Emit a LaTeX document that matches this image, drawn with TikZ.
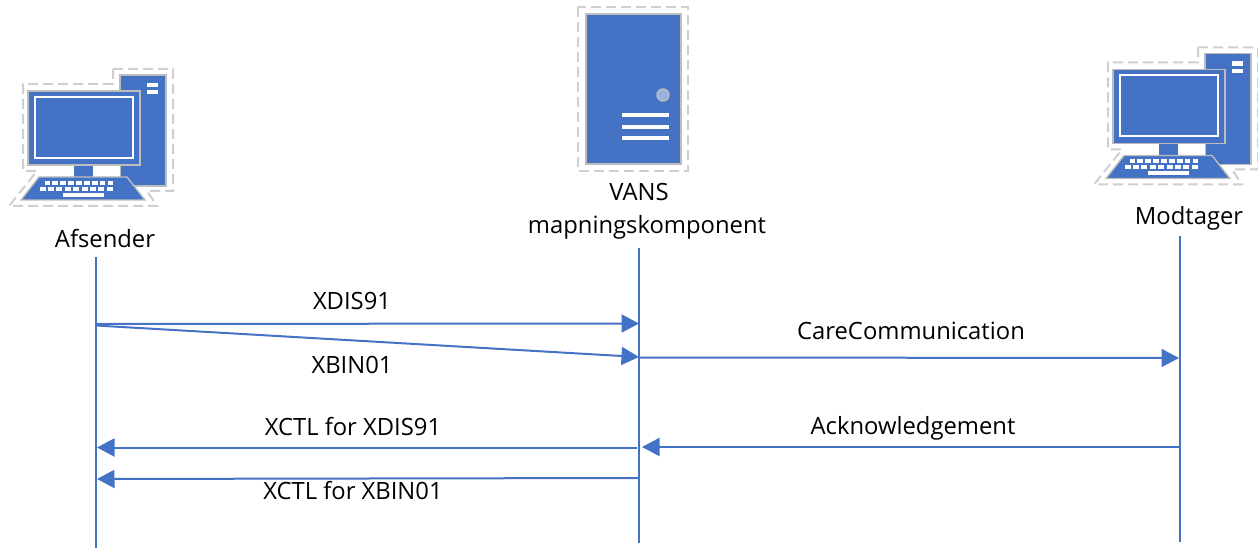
\documentclass[tikz,border=0pt]{standalone}
\usepackage{fontspec}
\setmainfont{Open Sans}
\usetikzlibrary{arrows.meta}
\definecolor{vblue}{HTML}{4472C4}
\definecolor{vedge}{HTML}{BDBDBD}
\definecolor{vdash}{HTML}{CFCFCF}
\tikzset{
  lifeline/.style={vblue,line width=2pt},
  msg/.style={vblue,line width=2pt,-{Triangle[length=17.5pt,width=18pt]}},
  lbl/.style={text=black,font=\fontsize{23.8pt}{28pt}\selectfont,inner sep=0pt,anchor=center},
  iconbody/.style={fill=vblue,draw=vedge,line width=1.4pt},
  icondash/.style={draw=vdash,line width=2pt,dash pattern=on 10pt off 5pt},
  pcicon/.pic={
    \draw[icondash] (113,69)--(173,69)--(173,191)--(147,191)--(157,206)--(9,206)--(37,171)--(23,171)--(23,84)--(113,84)--cycle;
    \draw[iconbody] (120,75) rectangle (166,186);
    \fill[white] (147,83) rectangle (158,87.5);
    \fill[white] (147,90.5) rectangle (158,94.5);
    \fill[white] (93,166) rectangle (120,177);
    \draw[iconbody] (28,91) rectangle (140,165);
    \draw[white,line width=2pt] (35,97) rectangle (133,158);
    \fill[vblue] (74,165.7) rectangle (93,177);
    \draw[iconbody] (39,177)--(127,177)--(145,200)--(21,200)--cycle;
    \foreach \k in {0,...,8} {
      \fill[white] ({44.5+\k*7.9},181) rectangle ++(5.6,3.6);
      \fill[white] ({39.5+\k*8.4},187) rectangle ++(6,3.6);
    }
    \fill[white] (63,193) rectangle (104,196.6);
  }
}
\begin{document}
\begin{tikzpicture}[x=1pt,y=-1pt]
\useasboundingbox (0,0) rectangle (1258,548);
% icons
\pic at (0,0) {pcicon};
\pic at (1085,-21.5) {pcicon};
\draw[icondash] (578,7) rectangle (688,171);
\draw[iconbody] (586,14) rectangle (681,164);
\draw[fill=vblue!55!white,draw=vedge,line width=1.4pt] (663,95) circle (6);
\foreach \yy in {115,127,138} \fill[white] (622,\yy-2) rectangle (669,\yy+2);
% titles
\node[lbl] (afs) at (105,239) {Afsender};
\node[lbl] (vans) at (639,192) {VANS};
\node[lbl] (map) at (647,227.5) {mapningskomponent};
\node[lbl] (mod) at (1189,218.5) {Modtager};
% lifeline ends
\coordinate (aT) at (96,257); \coordinate (aB) at (96,548);
\coordinate (vT) at (639,248); \coordinate (vB) at (639,543);
\coordinate (mT) at (1180,236); \coordinate (mB) at (1180,542);
\draw[lifeline] (aT)--(aB);
\draw[lifeline] (vT)--(vB);
\draw[lifeline] (mT)--(mB);
% message ends
\coordinate (a1) at (96,324); \coordinate (v1) at (639,323.5);
\coordinate (a2) at (96,325.5); \coordinate (v2) at (639,357);
\coordinate (v3) at (639,357.5); \coordinate (m3) at (1179,358);
\coordinate (m4) at (1180,447); \coordinate (v4) at (642,447);
\coordinate (v5) at (637,447.5); \coordinate (a5) at (97,447.5);
\coordinate (v6) at (638,478); \coordinate (a6) at (97,479);
\draw[msg] (a1)--(v1);
\draw[msg] (a2)--(v2);
\draw[msg] (v3)--(m3);
\draw[msg] (m4)--(v4);
\draw[msg] (v5)--(a5);
\draw[msg] (v6)--(a6);
% labels
\node[lbl] (l1) at (352,301) {XDIS91};
\node[lbl] (l2) at (352,365) {XBIN01};
\node[lbl] (l3) at (911,331) {CareCommunication};
\node[lbl] (l4) at (353,427) {XCTL for XDIS91};
\node[lbl] (l5) at (913,428.5) {Acknowledgement};
\node[lbl] (l6) at (353,491) {XCTL for XBIN01};
\end{tikzpicture}
\end{document}
